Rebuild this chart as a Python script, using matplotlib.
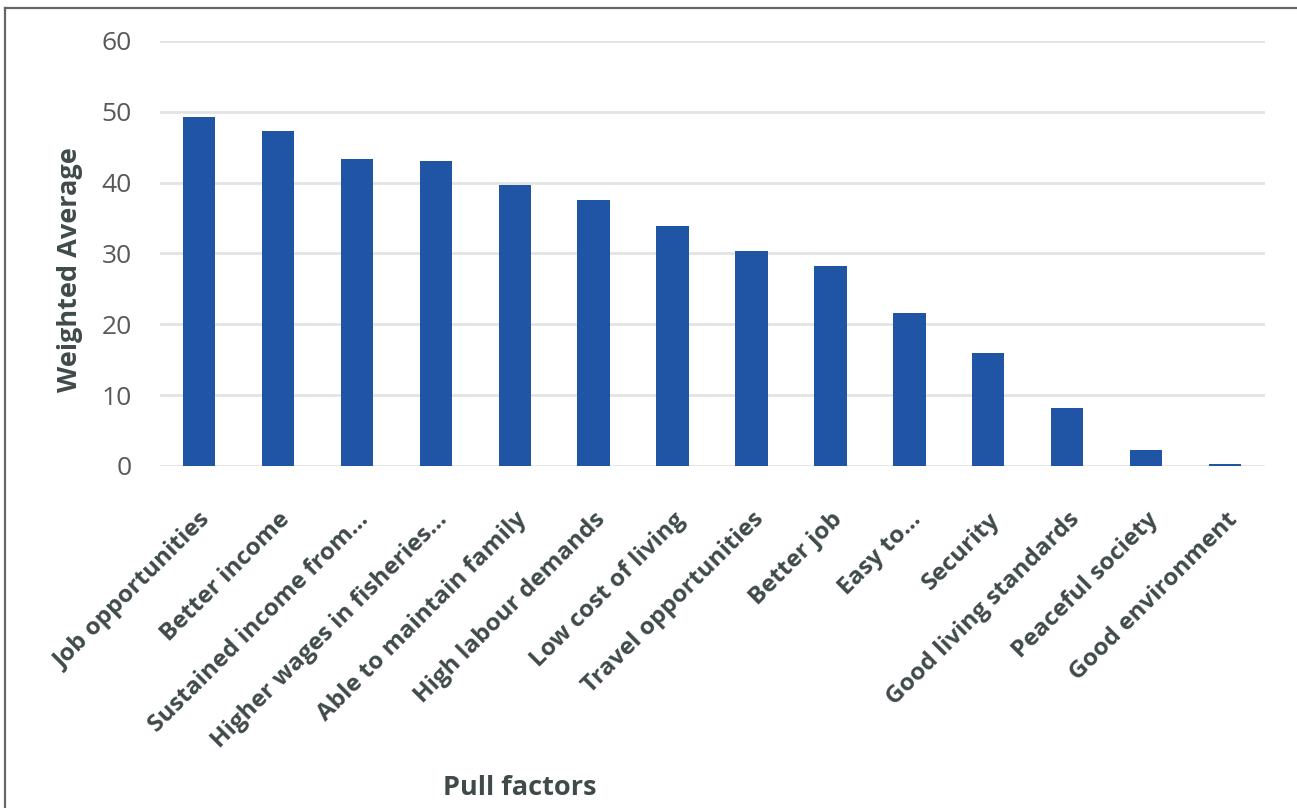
#!/usr/bin/env python3

import matplotlib
matplotlib.use("Agg")
import matplotlib.pyplot as plt
from matplotlib.lines import Line2D

factors = [
    "Job opportunities",
    "Better income",
    "Sustained income from\u2026",
    "Higher wages in fisheries\u2026",
    "Able to maintain family",
    "High labour demands",
    "Low cost of living",
    "Travel opportunities",
    "Better job",
    "Easy to\u2026",
    "Security",
    "Good living standards",
    "Peaceful society",
    "Good environment",
]
weighted_avg = [49.3, 47.3, 43.3, 43.0, 39.7, 37.6, 33.9, 30.3, 28.3, 21.6,
                16.0, 8.2, 2.3, 0.3]
y_ticks = [0, 10, 20, 30, 40, 50, 60]

BAR = "#2055a5"
TEXT = "#404a4a"


def main():
    plt.rcParams["font.family"] = ["Open Sans", "DejaVu Sans"]
    fig = plt.figure(figsize=(12.97, 8.08), dpi=100)
    ax = fig.add_axes([0.123, 0.4233, 0.852, 0.526])

    x = range(len(factors))
    ax.bar(x, weighted_avg, width=0.41, color=BAR, zorder=3)

    ax.set_xlim(-0.5, len(factors) - 0.5)
    ax.set_ylim(0, 60)
    ax.set_yticks(y_ticks)
    ax.grid(axis="y", color="#e3e3e3", linewidth=2, zorder=0)
    for s in ax.spines.values():
        s.set_visible(False)
    ax.tick_params(length=0)
    ax.tick_params(axis="y", labelsize=19, labelcolor="#595959", pad=20)

    ax.set_xticks(list(x))
    ax.set_xticklabels(factors, rotation=45, ha="right",
                       rotation_mode="anchor", fontsize=17.5,
                       fontweight="bold", color=TEXT)
    ax.tick_params(axis="x", pad=30)

    fig.text(0.054, 0.666, "Weighted Average", rotation=90, ha="center",
             va="center", fontsize=19.5, fontweight="bold", color=TEXT)
    fig.text(0.401, 0.025, "Pull factors", ha="center", va="center",
             fontsize=19.5, fontweight="bold", color=TEXT)

    # frame: top and left edge only
    fig.add_artist(Line2D([0.0035, 1.0], [0.9905, 0.9905],
                          transform=fig.transFigure, color="#666666", lw=1.6))
    fig.add_artist(Line2D([0.0035, 0.0035], [0.0, 0.9905],
                          transform=fig.transFigure, color="#666666", lw=1.6))

    fig.savefig("out.png", dpi=100)
    plt.close(fig)


if __name__ == "__main__":
    main()
